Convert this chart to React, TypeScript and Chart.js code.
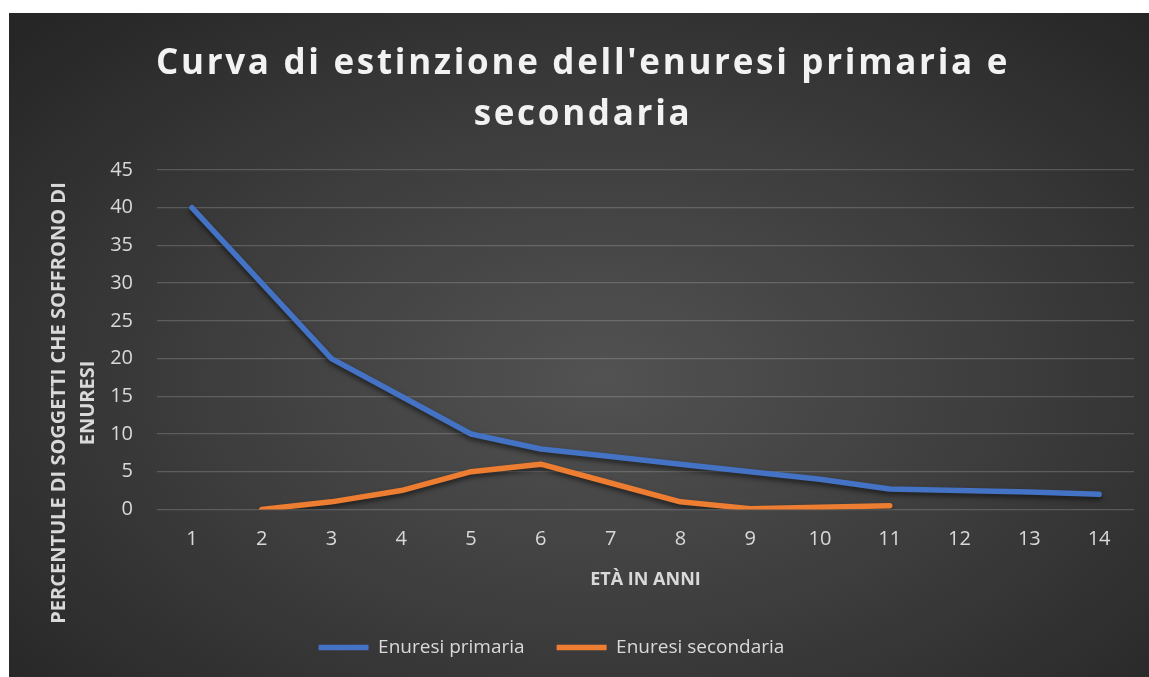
import { useEffect, useRef } from "react";
import { Chart, registerables } from "chart.js";

Chart.register(...registerables);

const AGES = ["1", "2", "3", "4", "5", "6", "7", "8", "9", "10", "11", "12", "13", "14"];
const PRIMARY = [40, 30, 20, 15, 10, 8, 7, 6, 5, 4, 2.7, 2.5, 2.3, 2];
const SECONDARY = [null, 0, 1, 2.5, 5, 6, 3.5, 1, 0.1, 0.3, 0.5, null, null, null];
const SERIES_NAMES = ["Enuresi primaria", "Enuresi secondaria"];
const TITLE_LINES = ["Curva di estinzione dell'enuresi primaria e", "secondaria"];
const Y_TITLE_LINES = ["PERCENTULE DI SOGGETTI CHE SOFFRONO DI", "ENURESI"];
const X_TITLE = "ETÀ IN ANNI";

const FONT = "'Open Sans', 'Noto Sans', sans-serif";
const TEXT = "#d9d9d9";

const textPlugin = {
  id: "customText",
  beforeDraw(chart: any) {
    if (chart.legend && !chart.legend._shifted) {
      chart.legend.right -= 40;
      chart.legend._shifted = true;
    }
  },
  afterDraw(chart: any) {
    const ctx = chart.ctx as CanvasRenderingContext2D;
    ctx.save();
    ctx.font = `bold 35px ${FONT}`;
    ctx.fillStyle = "#f2f2f2";
    ctx.textAlign = "center";
    ctx.textBaseline = "alphabetic";
    (ctx as any).letterSpacing = "2.7px";
    TITLE_LINES.forEach((l, i) => ctx.fillText(l, 574, 61 + i * 51));
    ctx.restore();

    ctx.save();
    ctx.font = `bold 20px ${FONT}`;
    ctx.fillStyle = TEXT;
    ctx.textAlign = "center";
    ctx.textBaseline = "middle";
    ctx.translate(50, 390);
    ctx.rotate(-Math.PI / 2);
    Y_TITLE_LINES.forEach((l, i) => ctx.fillText(l, 0, i * 29));
    ctx.restore();
  },
};

const shadowPlugin = {
  id: "lineShadow",
  beforeDatasetsDraw(chart: any) {
    const ctx = chart.ctx;
    ctx.save();
    ctx.shadowColor = "rgba(0,0,0,0.55)";
    ctx.shadowBlur = 5;
    ctx.shadowOffsetY = 3;
  },
  afterDatasetsDraw(chart: any) {
    chart.ctx.restore();
  },
};

export default function App() {
  const ref = useRef<HTMLCanvasElement>(null);
  useEffect(() => {
    if (!ref.current) return;
    const chart = new Chart(ref.current, {
      type: "line",
      data: {
        labels: AGES,
        datasets: [
          {
            label: SERIES_NAMES[0],
            data: PRIMARY,
            borderColor: "#4472C4",
            backgroundColor: "#4472C4",
            borderWidth: 5.5,
            pointRadius: 0,
            borderCapStyle: "round",
            borderJoinStyle: "round",
            tension: 0,
          },
          {
            label: SERIES_NAMES[1],
            data: SECONDARY,
            borderColor: "#ED7D31",
            backgroundColor: "#ED7D31",
            borderWidth: 5.5,
            pointRadius: 0,
            borderCapStyle: "round",
            borderJoinStyle: "round",
            tension: 0,
            spanGaps: false,
          },
        ],
      },
      plugins: [textPlugin, shadowPlugin],
      options: {
        animation: false,
        responsive: false,
        maintainAspectRatio: false,
        layout: { padding: { top: 157, right: 15, left: 0, bottom: 10 } },
        plugins: {
          title: { display: false },
          tooltip: { enabled: false },
          legend: {
            position: "bottom",
            labels: {
              color: TEXT,
              font: { family: FONT, size: 19 },
              usePointStyle: true,
              pointStyle: "line",
              pointStyleWidth: 50,
              padding: 32,
            },
          },
        },
        scales: {
          x: {
            offset: true,
            grid: { display: false, drawTicks: false },
            border: { display: false },
            ticks: { color: TEXT, font: { family: FONT, size: 20 }, padding: 18 },
            title: {
              display: true,
              text: X_TITLE,
              color: TEXT,
              font: { family: FONT, size: 18, weight: "bold" },
              padding: { top: 0, bottom: 15 },
            },
          },
          y: {
            min: 0,
            max: 45,
            afterFit: (s: any) => {
              s.width = 148;
            },
            grid: { color: "rgba(217,217,217,0.22)", lineWidth: 1.3, drawTicks: false },
            border: { display: false },
            ticks: { stepSize: 5, color: TEXT, font: { family: FONT, size: 20 }, padding: 24 },
          },
        },
      },
    } as any);
    return () => chart.destroy();
  }, []);
  return (
    <div
      style={{
        position: "absolute",
        left: 9,
        top: 13,
        width: 1140,
        height: 664,
        background:
          "radial-gradient(ellipse 70% 75% at 52% 55%, #525252 0%, #3d3d3d 50%, #262626 100%)",
      }}
    >
      <canvas ref={ref} width={1140} height={664} style={{ display: "block" }} />
    </div>
  );
}
